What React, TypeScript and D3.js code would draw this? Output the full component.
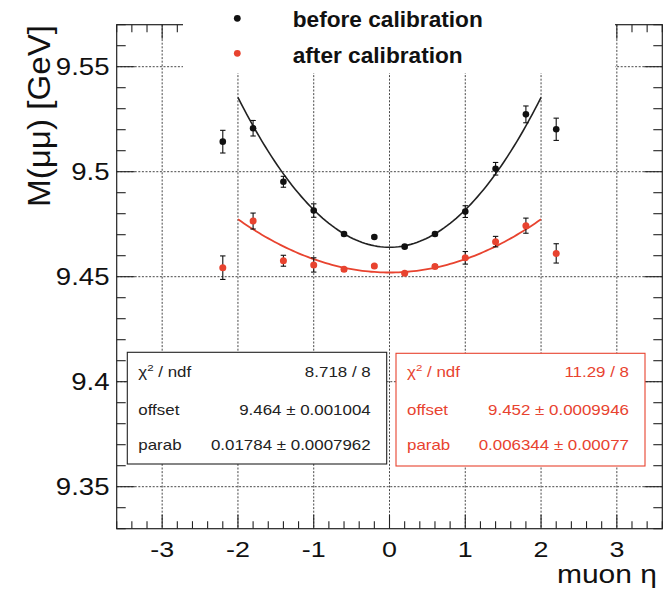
import React from 'react';
import * as d3 from 'd3';

// ---- data ----
const eta = [-2.2, -1.8, -1.4, -1.0, -0.6, -0.2, 0.2, 0.6, 1.0, 1.4, 1.8, 2.2];
const beforeVals = [9.5143, 9.5207, 9.4952, 9.4815, 9.4703, 9.4689, 9.4643, 9.4703, 9.481, 9.5014, 9.5273, 9.5202];
const beforeErrs = [0.0054, 0.0037, 0.0026, 0.0032, 0.0008, 0.0006, 0.0007, 0.0008, 0.0028, 0.003, 0.004, 0.0053];
const afterVals = [9.4543, 9.4765, 9.4576, 9.4556, 9.4535, 9.4551, 9.4516, 9.4548, 9.459, 9.4667, 9.4743, 9.4611];
const afterErrs = [0.0056, 0.0038, 0.0026, 0.0034, 0.0008, 0.0006, 0.0007, 0.0008, 0.003, 0.0025, 0.0036, 0.0046];

// fit parameters (from the stat boxes): M = offset + parab * eta^2, fitted on [-2, 2]
const fitBefore = { offset: 9.464, parab: 0.01784 };
const fitAfter = { offset: 9.452, parab: 0.006344 };
const fitRange = [-2, 2];

const statBefore = [
  ['chi', '8.718 / 8'],
  ['offset', '9.464 \u00b1 0.001004'],
  ['parab', '0.01784 \u00b1 0.0007962'],
];
const statAfter = [
  ['chi', '11.29 / 8'],
  ['offset', '9.452 \u00b1 0.0009946'],
  ['parab', '0.006344 \u00b1 0.00077'],
];

const legendLabels = ['before calibration', 'after calibration'];
const xTicks = [-3, -2, -1, 0, 1, 2, 3];
const yTicks = [9.35, 9.4, 9.45, 9.5, 9.55];
const yTickLabels = ['9.35', '9.4', '9.45', '9.5', '9.55'];
const xTitle = 'muon \u03b7';
const yTitle = 'M(\u03bc\u03bc) [GeV]';

const W = 663;
const H = 593;
const RED = '#e8432f';
const INK = '#111';
const FONT = "'Liberation Sans', Arial, Helvetica, sans-serif";

const x = d3.scaleLinear().domain([-3.6, 3.6]).range([116.7, 662.3]);
const y = d3.scaleLinear().domain([9.33, 9.57]).range([528.7, 24.7]);

function T(props: any) {
  const { x: tx, y: ty, sx = 1.2, anchor = 'start', size, fill = INK, weight, children } = props;
  return (
    <text
      transform={`translate(${tx},${ty}) scale(${sx},1)`}
      textAnchor={anchor}
      fontSize={size}
      fontFamily={FONT}
      fill={fill}
      fontWeight={weight}
    >
      {children}
    </text>
  );
}

function Series({ vals, errs, color, r }: any) {
  return (
    <g>
      {eta.map((e, i) => {
        const cx = x(e);
        const y0 = y(vals[i] - errs[i]);
        const y1 = y(vals[i] + errs[i]);
        return (
          <g key={i}>
            <line x1={cx} x2={cx} y1={y0} y2={y1} stroke={INK} strokeWidth={1.1} />
            <line x1={cx - 2.7} x2={cx + 2.7} y1={y0} y2={y0} stroke={INK} strokeWidth={1.1} />
            <line x1={cx - 2.7} x2={cx + 2.7} y1={y1} y2={y1} stroke={INK} strokeWidth={1.1} />
            <circle cx={cx} cy={y(vals[i])} r={r} fill={color} />
          </g>
        );
      })}
    </g>
  );
}

function StatBox({ x0, y0, w, h, rows, color }: any) {
  const baselines = [377, 414.5, 450];
  return (
    <g>
      <rect x={x0} y={y0} width={w} height={h} fill="#fff" stroke={color} strokeWidth={1.1} />
      {rows.map((r: any, i: number) => (
        <g key={i}>
          {r[0] === 'chi' ? (
            <text
              transform={`translate(${x0 + 11},${baselines[i]}) scale(1.21,1)`}
              fontSize={14}
              fontFamily={FONT}
              fill={color}
            >
              {'\u03c7'}
              <tspan fontSize={9.5} dy={-6}>2</tspan>
              <tspan dy={6}>{' / ndf'}</tspan>
            </text>
          ) : (
            <T x={x0 + 11} y={baselines[i]} size={14} sx={1.21} fill={color}>{r[0]}</T>
          )}
          <T x={x0 + w - 16} y={baselines[i]} size={14} sx={1.21} anchor="end" fill={color}>{r[1]}</T>
        </g>
      ))}
    </g>
  );
}

export default function App() {
  const [xa, xb] = x.domain();
  const [ya, yb] = y.domain();
  const left = x(xa), right = x(xb), top = y(yb), bottom = y(ya);
  const xMinor = d3.range(-36, 37, 2).map((v) => v / 10);
  const yMinor = d3.range(933, 958).map((v) => v / 100);
  const curve = (p: any) =>
    d3.line<number>()
      .x((e) => x(e))
      .y((e) => y(p.offset + p.parab * e * e))(d3.range(fitRange[0], fitRange[1] + 0.001, 0.04)) as string;

  return (
    <svg width={W} height={H} style={{ position: 'absolute', left: 0, top: 0, background: '#fff' }}>
      <rect x={0} y={0} width={W} height={H} fill="#fff" />
      {/* grid */}
      <g stroke="#333" strokeWidth={0.9} strokeDasharray="2,1.6">
        {xTicks.map((t) => (
          <line key={'gx' + t} x1={x(t)} x2={x(t)} y1={top} y2={bottom} />
        ))}
        {yTicks.map((t) => (
          <line key={'gy' + t} x1={left} x2={right} y1={y(t)} y2={y(t)} />
        ))}
      </g>
      {/* ticks */}
      <g stroke="#222" strokeWidth={1.1}>
        {xMinor.map((t, i) => {
          const major = Math.abs(t - Math.round(t)) < 1e-6;
          const len = major ? 14 : 7.5;
          return (
            <g key={'xt' + i}>
              <line x1={x(t)} x2={x(t)} y1={bottom} y2={bottom - len} />
              <line x1={x(t)} x2={x(t)} y1={top} y2={top + len} />
            </g>
          );
        })}
        {yMinor.map((t, i) => {
          const major = Math.abs(t * 20 - Math.round(t * 20)) < 1e-6;
          const len = major ? 18 : 9;
          return (
            <g key={'yt' + i}>
              <line x1={left} x2={left + len} y1={y(t)} y2={y(t)} />
              <line x1={right} x2={right - len} y1={y(t)} y2={y(t)} />
            </g>
          );
        })}
      </g>
      <rect x={left} y={top} width={right - left} height={bottom - top} fill="none" stroke="#222" strokeWidth={1.2} />

      {/* legend (white, borderless) */}
      <rect x={183} y={0} width={432} height={73} fill="#fff" />
      <circle cx={237.3} cy={18.3} r={3.4} fill={INK} />
      <circle cx={237.3} cy={53.3} r={3.4} fill={RED} />
      <T x={292.7} y={27.3} size={22} sx={1.03} weight="bold">{legendLabels[0]}</T>
      <T x={292.7} y={62.5} size={22} sx={1.03} weight="bold">{legendLabels[1]}</T>

      {/* fits */}
      <path d={curve(fitBefore)} fill="none" stroke="#222" strokeWidth={1.6} />
      <path d={curve(fitAfter)} fill="none" stroke={RED} strokeWidth={1.8} />

      {/* points */}
      <Series vals={beforeVals} errs={beforeErrs} color={INK} r={3.3} />
      <Series vals={afterVals} errs={afterErrs} color={RED} r={3.5} />

      {/* stat boxes */}
      <StatBox x0={127.3} y0={352.3} w={259.4} h={111.7} rows={statBefore} color="#222" />
      <StatBox x0={396} y0={353.3} w={249} h={112.7} rows={statAfter} color={RED} />

      {/* axis labels */}
      {yTicks.map((t, i) => (
        <T key={'yl' + t} x={109.5} y={y(t) + 8.3} size={23} sx={1.2} anchor="end">{yTickLabels[i]}</T>
      ))}
      {xTicks.map((t) => (
        <T key={'xl' + t} x={x(t)} y={556.7} size={22} sx={1.22} anchor="middle">{String(t)}</T>
      ))}
      <T x={657} y={583.3} size={25} sx={1.2} anchor="end">{xTitle}</T>
      <text
        transform={`translate(50,25) rotate(-90)`}
        textAnchor="end"
        fontSize={31}
        fontFamily={FONT}
        fill={INK}
        textLength={182}
        lengthAdjust="spacingAndGlyphs"
      >
        {yTitle}
      </text>
    </svg>
  );
}
